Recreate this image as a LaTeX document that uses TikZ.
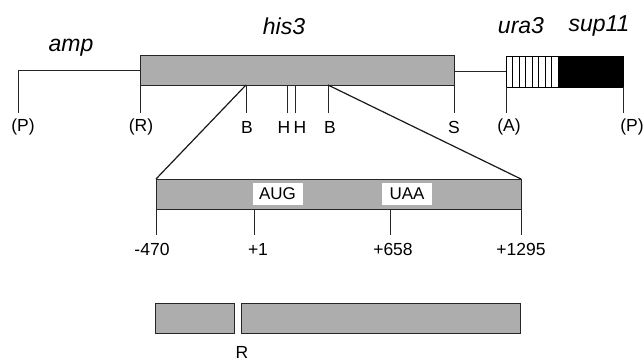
\documentclass[tikz,border=0pt]{standalone}
\usepackage{fontspec}
\setmainfont{Liberation Sans}
\begin{document}
\begin{tikzpicture}[x=1pt,y=-1pt,
  gene/.style={draw=black!85,line width=0.9pt,fill=black!32},
  tick/.style={line width=0.8pt,black!85},
  thin/.style={line width=0.8pt,black!85},
  zoomline/.style={line width=1.2pt,black!90},
  site/.style={font=\fontsize{17.5}{17.5}\selectfont,inner sep=0pt,anchor=center},
  gname/.style={font=\fontsize{23}{23}\selectfont\itshape,inner sep=0pt},
  num/.style={font=\fontsize{17.5}{17.5}\selectfont,inner sep=0pt},
  codon/.style={fill=white,font=\fontsize{17}{17}\selectfont,inner sep=0pt,minimum height=22pt,minimum width=50pt}]
\useasboundingbox (0,0) rectangle (643,362);
% top map backbone
\coordinate (pL) at (18,70);
\coordinate (his3L) at (140,70);
\draw[thin] (pL) -- (his3L);
\draw[gene] (140,55) rectangle (454,85);
\coordinate (his3R) at (454,71);
\coordinate (uraL) at (506,71);
\draw[thin] (his3R) -- (uraL);
% ura3 striped box and sup11 black box
\draw[line width=0.9pt,fill=white] (506,56) rectangle (558,87);
\foreach \i in {1,...,7} \draw[line width=0.6pt] (506+\i*6.5,56) -- (506+\i*6.5,87);
\draw[line width=0.9pt,fill=black] (558,56) rectangle (623,87);
% ticks on top map
\foreach \xx/\ya in {18/70,140/85,246/85,287/85,295/85,328/85,454/85,506/87,623/87}
  \draw[tick] (\xx,\ya) -- (\xx,113);
% labels top
\node[gname] (amp) at (71,48) {amp};
\node[gname] (his3) at (284,26) {his3};
\node[gname] (ura3) at (521,26) {ura3};
\node[gname] (sup11) at (599,26) {sup11};
\node[site] (sP1) at (23,127) {(P)};
\node[site] (sR) at (141,127) {(R)};
\node[site] (sB1) at (247,127) {B};
\node[site] (sH1) at (284,127) {H};
\node[site] (sH2) at (300,127) {H};
\node[site] (sB2) at (330,127) {B};
\node[site] (sS) at (454,127) {S};
\node[site] (sA) at (509,127) {(A)};
\node[site] (sP2) at (632,127) {(P)};
% zoom lines
\coordinate (zB1) at (246,85);
\coordinate (zB2) at (328,85);
\coordinate (zL) at (156,179);
\coordinate (zR) at (521,179);
\draw[zoomline] (zB1) -- (zL);
\draw[zoomline] (zB2) -- (zR);
% expanded box
\draw[gene] (156,179) rectangle (521,209);
\node[codon] (aug) at (277.5,194) {AUG};
\node[codon] (uaa) at (407,194) {UAA};
\foreach \xx in {156,254,390,521} \draw[tick] (\xx,209) -- (\xx,235);
\node[num] (n1) at (152,249) {-470};
\node[num] (n2) at (258,249) {+1};
\node[num] (n3) at (393,249) {+658};
\node[num] (n4) at (521,249) {+1295};
% disrupted gene
\draw[gene] (155,303) rectangle (234,333);
\draw[gene] (241,303) rectangle (520,333);
\node[site] (rsite) at (242,352) {R};
\end{tikzpicture}
\end{document}
